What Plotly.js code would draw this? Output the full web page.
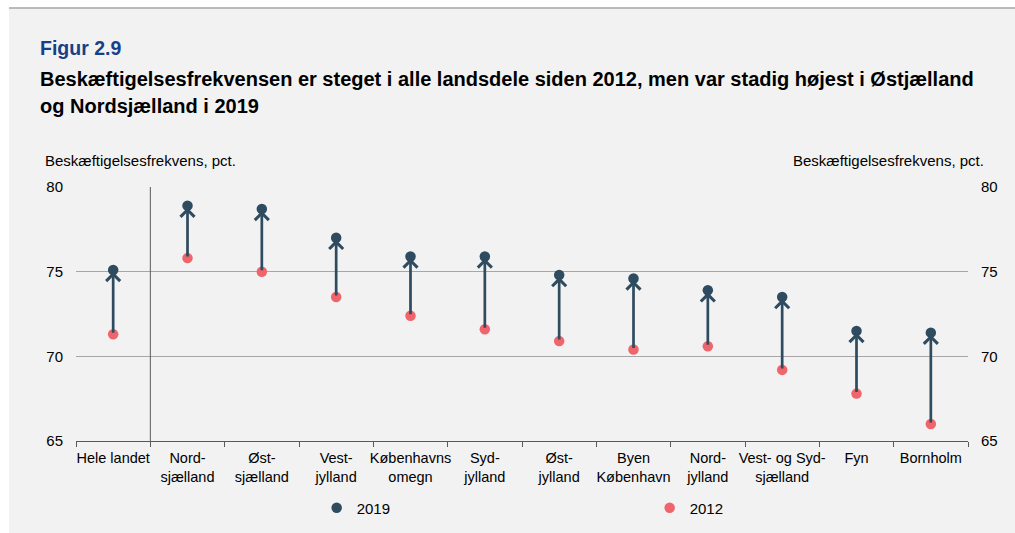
<!DOCTYPE html>
<html>
<head>
<meta charset="utf-8">
<script src="https://cdn.plot.ly/plotly-3.0.1.min.js"></script>
<style>html,body{margin:0;padding:0;background:#fff;}#chart{width:1015px;height:533px;}</style>
</head>
<body>
<div id="chart"></div>
<script>
var categories = ["Hele landet", "Nord-<br>sjælland", "Øst-<br>sjælland", "Vest-<br>jylland", "Københavns<br>omegn", "Syd-<br>jylland", "Øst-<br>jylland", "Byen<br>København", "Nord-<br>jylland", "Vest- og Syd-<br>sjælland", "Fyn", "Bornholm"];
var values2019 = [75.1, 78.9, 78.7, 77.0, 75.9, 75.9, 74.8, 74.6, 73.9, 73.5, 71.5, 71.4];
var values2012 = [71.3, 75.8, 75.0, 73.5, 72.4, 71.6, 70.9, 70.4, 70.6, 69.2, 67.8, 66.0];
var yTicks = [65, 70, 75, 80];

var dark = '#2f4b5f';
var coral = '#f0646c';
var FONT = '"Liberation Sans", Arial, sans-serif';

var traces = [
  {type: 'scatter', mode: 'markers', name: '2019', x: categories, y: values2019,
   marker: {color: dark, size: 10.5}, hoverinfo: 'x+y'},
  {type: 'scatter', mode: 'markers', name: '2012', x: categories, y: values2012,
   marker: {color: coral, size: 10.5}, hoverinfo: 'x+y'}
];

var annotations = [];
for (var i = 0; i < categories.length; i++) {
  annotations.push({
    x: categories[i], y: values2019[i], xref: 'x', yref: 'y',
    ax: categories[i], ay: values2012[i], axref: 'x', ayref: 'y',
    text: '', showarrow: true, arrowhead: 4, arrowsize: 1, arrowwidth: 2.7,
    arrowcolor: dark, standoff: 2, startstandoff: 0
  });
}
// titles
annotations.push({xref: 'paper', yref: 'paper', x: -0.0426, y: 1.547, xanchor: 'left', yanchor: 'middle',
  text: '<b>Figur 2.9</b>', showarrow: false, font: {family: FONT, size: 19.5, color: '#173f8a'}});
annotations.push({xref: 'paper', yref: 'paper', x: -0.0426, y: 1.425, xanchor: 'left', yanchor: 'middle',
  text: '<b>Beskæftigelsesfrekvensen er steget i alle landsdele siden 2012, men var stadig højest i Østjælland</b>', showarrow: false, font: {family: FONT, size: 20, color: '#000'}});
annotations.push({xref: 'paper', yref: 'paper', x: -0.0426, y: 1.319, xanchor: 'left', yanchor: 'middle',
  text: '<b>og Nordsjælland i 2019</b>', showarrow: false, font: {family: FONT, size: 20, color: '#000'}});
annotations.push({xref: 'paper', yref: 'paper', x: -0.0365, y: 1.106, xanchor: 'left', yanchor: 'middle',
  text: 'Beskæftigelsesfrekvens, pct.', showarrow: false, font: {family: FONT, size: 15, color: '#000'}});
annotations.push({xref: 'paper', yref: 'paper', x: 1.02, y: 1.106, xanchor: 'right', yanchor: 'middle',
  text: 'Beskæftigelsesfrekvens, pct.', showarrow: false, font: {family: FONT, size: 15, color: '#000'}});

var layout = {
  width: 1015, height: 533,
  margin: {l: 76, r: 47, t: 187, b: 92, pad: 0},
  paper_bgcolor: '#ffffff',
  plot_bgcolor: 'rgba(0,0,0,0)',
  font: {family: FONT, size: 15, color: '#000'},
  showlegend: true,
  legend: {orientation: 'h', xref: 'container', yref: 'container', x: 0.312, y: 0.047, xanchor: 'left', yanchor: 'middle',
    entrywidth: 288, entrywidthmode: 'pixels', bgcolor: 'rgba(0,0,0,0)',
    font: {family: FONT, size: 15, color: '#000'}},
  xaxis: {type: 'category', range: [-0.5, 11.5], autorange: false, tickson: 'boundaries', ticks: 'outside', ticklen: 5, tickcolor: '#595959',
    showline: true, linecolor: '#595959', linewidth: 1, showgrid: false, zeroline: false, tickangle: 0, ticklabelstandoff: 4,
    automargin: false, tickfont: {family: FONT, size: 14.5, color: '#000'}, fixedrange: true},
  yaxis: {range: [65, 80], autorange: false, tickvals: yTicks, ticktext: yTicks.map(String), showgrid: true, gridcolor: '#a6a6a6', gridwidth: 1,
    zeroline: false, showline: false, ticks: '', ticklabelstandoff: 12, automargin: false,
    tickfont: {family: FONT, size: 15, color: '#000'}, fixedrange: true},
  yaxis2: {range: [65, 80], autorange: false, tickvals: yTicks, ticktext: yTicks.map(String), overlaying: 'y', side: 'right', showgrid: false,
    zeroline: false, showline: false, ticks: '', ticklabelstandoff: 12, automargin: false,
    tickfont: {family: FONT, size: 15, color: '#000'}, fixedrange: true},
  shapes: [
    {type: 'rect', xref: 'paper', yref: 'paper', x0: -0.0751, x1: 1.06, y0: -0.37, y1: 1.7047,
     fillcolor: '#f2f2f2', line: {width: 0}, layer: 'below'},
    {type: 'line', xref: 'paper', yref: 'paper', x0: -0.0751, x1: 1.06, y0: 1.7047, y1: 1.7047,
     line: {color: '#a6a6a6', width: 1.5}, layer: 'below'},
    {type: 'line', xref: 'x', yref: 'paper', x0: 0.5, x1: 0.5, y0: 0, y1: 1,
     line: {color: '#595959', width: 1}, layer: 'above'}
  ],
  annotations: annotations
};

// dummy trace to activate yaxis2
traces.push({type: 'scatter', mode: 'markers', x: [categories[0]], y: [null], yaxis: 'y2', showlegend: false, hoverinfo: 'skip'});

Plotly.newPlot('chart', traces, layout, {displayModeBar: false, staticPlot: false});
</script>
</body>
</html>
